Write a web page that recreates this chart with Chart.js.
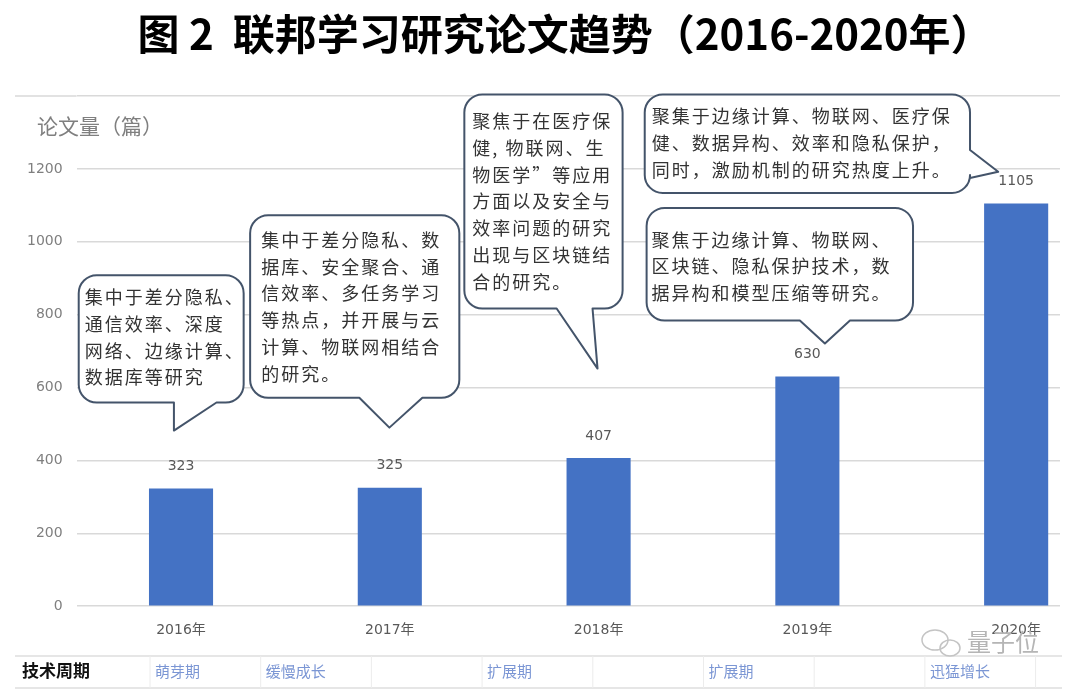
<!DOCTYPE html>
<html><head><meta charset="utf-8">
<script src="https://cdn.jsdelivr.net/npm/chart.js@4/dist/chart.umd.min.js"></script>
<style>html,body{margin:0;padding:0;background:#fff;}#wrap{width:1080px;height:693px;position:relative;}</style>
</head><body><div id="wrap"><canvas id="c" width="1080" height="693"></canvas></div>
<script>
// ---- data ----
const titleText = '图 2  联邦学习研究论文趋势（2016-2020年）';
const yAxisTitle = '论文量（篇）';
const years = [2016, 2017, 2018, 2019, 2020];
const yearLabels = ['2016年', '2017年', '2018年', '2019年', '2020年'];
const paperCounts = [323, 325, 407, 630, 1105];
const yTicks = [0, 200, 400, 600, 800, 1000, 1200];
const phaseHeader = '技术周期';
const phaseLabels = ['萌芽期', '缓慢成长', '', '扩展期', '', '扩展期', '', '迅猛增长'];
const note2016 = ['集中于差分隐私、', '通信效率、深度', '网络、边缘计算、', '数据库等研究'];
const note2017 = ['集中于差分隐私、数', '据库、安全聚合、通', '信效率、多任务学习', '等热点，并开展与云', '计算、物联网相结合', '的研究。'];
const note2018 = ['聚焦于在医疗保', '健, 物联网、生', '物医学”等应用', '方面以及安全与', '效率问题的研究', '出现与区块链结', '合的研究。'];
const note2020 = ['聚集于边缘计算、物联网、医疗保', '健、数据异构、效率和隐私保护，', '同时，激励机制的研究热度上升。'];
const note2019 = ['聚焦于边缘计算、物联网、', '区块链、隐私保护技术，数', '据异构和模型压缩等研究。'];
const watermark = '量子位';

// ---- callout placement (in axis units: years / paper counts) ----
const callouts = [
  { lines: note2016, box: [2015.51, 2016.30, 908, 559], tail: { side: 'bottom', a: 2015.966, b: 2016.17, tip: [2015.966, 482] }, padX: 6, padY: 22 },
  { lines: note2017, box: [2016.331, 2017.333, 1073, 572], tail: { side: 'bottom', a: 2016.854, b: 2017.156, tip: [2016.998, 490] }, padX: 11, padY: 25 },
  { lines: note2018, box: [2017.357, 2018.115, 1404, 817], tail: { side: 'bottom', a: 2017.799, b: 2017.971, tip: [2017.995, 652] }, padX: 8, padY: 27 },
  { lines: note2020, box: [2018.221, 2019.779, 1404, 1134], tail: { side: 'right', a: 1252, b: 1175, tip: [2019.914, 1192] }, padX: 7, padY: 22 },
  { lines: note2019, box: [2018.23, 2019.506, 1093, 784], tail: { side: 'bottom', a: 2018.964, b: 2019.204, tip: [2019.084, 721] }, padX: 5, padY: 32 }
];

const CJK = "'Noto Sans CJK SC', 'Noto Sans', sans-serif";
const NUM = "'DejaVu Sans', 'Noto Sans CJK SC', sans-serif";

function bubblePath(ctx, l, t, r, b, rad, tail, xs, ys) {
  ctx.beginPath();
  ctx.moveTo(l + rad, t);
  ctx.lineTo(r - rad, t);
  ctx.arcTo(r, t, r, t + rad, rad);
  if (tail.side === 'right') {
    ctx.lineTo(r, ys.getPixelForValue(tail.a));
    ctx.lineTo(xs.getPixelForValue(tail.tip[0]), ys.getPixelForValue(tail.tip[1]));
    ctx.lineTo(r, ys.getPixelForValue(tail.b));
  }
  ctx.lineTo(r, b - rad);
  ctx.arcTo(r, b, r - rad, b, rad);
  if (tail.side === 'bottom') {
    ctx.lineTo(xs.getPixelForValue(tail.b), b);
    ctx.lineTo(xs.getPixelForValue(tail.tip[0]), ys.getPixelForValue(tail.tip[1]));
    ctx.lineTo(xs.getPixelForValue(tail.a), b);
  }
  ctx.lineTo(l + rad, b);
  ctx.arcTo(l, b, l, b - rad, rad);
  ctx.lineTo(l, t + rad);
  ctx.arcTo(l, t, l + rad, t, rad);
  ctx.closePath();
}

const decor = {
  id: 'decor',
  beforeDraw(chart) {
    const { ctx, scales: { x, y } } = chart;
    ctx.save();
    ctx.fillStyle = '#fff';
    ctx.fillRect(0, 0, chart.width, chart.height);
    const yTop = y.getPixelForValue(1400);
    ctx.strokeStyle = '#d9d9d9';
    ctx.lineWidth = 1.5;
    ctx.beginPath();
    ctx.moveTo(15, yTop); ctx.lineTo(chart.chartArea.left, yTop);
    ctx.stroke();
    ctx.restore();
  },
  afterDraw(chart) {
    const { ctx, scales: { x, y } } = chart;
    ctx.save();
    // title
    ctx.fillStyle = '#000';
    ctx.font = "bold 42px " + CJK;
    ctx.textAlign = 'center';
    ctx.textBaseline = 'middle';
    ctx.fillText(titleText, 565, 34);
    // y axis title
    ctx.fillStyle = '#7f7f7f';
    ctx.font = "21px " + CJK;
    ctx.textAlign = 'left';
    ctx.fillText(yAxisTitle, 37, 126);
    // value labels
    const meta = chart.getDatasetMeta(0);
    ctx.fillStyle = '#595959';
    ctx.font = "14px " + NUM;
    ctx.textAlign = 'center';
    meta.data.forEach((bar, i) => {
      ctx.fillText(String(paperCounts[i]), bar.x, bar.y - 22);
    });
    // callouts
    callouts.forEach(c => {
      const l = x.getPixelForValue(c.box[0]), r = x.getPixelForValue(c.box[1]);
      const t = y.getPixelForValue(c.box[2]), b = y.getPixelForValue(c.box[3]);
      bubblePath(ctx, l, t, r, b, 18, c.tail, x, y);
      ctx.fillStyle = '#fff';
      ctx.fill();
      ctx.strokeStyle = '#44546a';
      ctx.lineWidth = 2;
      ctx.lineJoin = 'round';
      ctx.stroke();
      ctx.fillStyle = '#333';
      ctx.font = "18px " + CJK;
      ctx.textAlign = 'left';
      ctx.textBaseline = 'middle';
      try { ctx.letterSpacing = '2px'; } catch (e) {}
      c.lines.forEach((ln, k) => ctx.fillText(ln, l + c.padX, t + c.padY + k * 26.7));
      try { ctx.letterSpacing = '0px'; } catch (e) {}
    });
    // bottom table row
    const rowTop = 656, rowBot = 688, cellW = 110.7, cellX0 = 150;
    ctx.strokeStyle = '#dedede';
    ctx.lineWidth = 1.5;
    ctx.beginPath();
    ctx.moveTo(15, rowTop); ctx.lineTo(1062, rowTop);
    ctx.moveTo(15, rowBot); ctx.lineTo(1062, rowBot);
    ctx.stroke();
    ctx.strokeStyle = '#ececec';
    ctx.lineWidth = 1;
    ctx.beginPath();
    for (let k = 0; k <= phaseLabels.length; k++) {
      const sx = cellX0 + k * cellW;
      ctx.moveTo(sx, rowTop); ctx.lineTo(sx, rowBot);
    }
    ctx.stroke();
    ctx.fillStyle = '#111';
    ctx.font = "bold 17px " + CJK;
    ctx.textBaseline = 'middle';
    ctx.fillText(phaseHeader, 22, 671);
    ctx.fillStyle = '#7b96d4';
    ctx.font = "15px " + CJK;
    phaseLabels.forEach((p, k) => { if (p) ctx.fillText(p, cellX0 + 5 + k * cellW, 671); });
    // watermark
    ctx.strokeStyle = '#c4c4c4';
    ctx.lineWidth = 1.5;
    ctx.beginPath(); ctx.ellipse(935, 640, 13, 10, 0, 0, Math.PI * 2); ctx.stroke();
    ctx.beginPath(); ctx.ellipse(950, 648, 10, 8, 0, 0, Math.PI * 2); ctx.stroke();
    ctx.fillStyle = '#b5b5b5';
    ctx.font = "24px " + CJK;
    ctx.textAlign = 'left';
    ctx.fillText(watermark, 967, 642);
    ctx.restore();
  }
};

new Chart(document.getElementById('c'), {
  type: 'bar',
  data: {
    datasets: [{
      data: years.map((yr, i) => ({ x: yr, y: paperCounts[i] })),
      backgroundColor: '#4472c4',
      borderWidth: 0,
      barPercentage: 0.307,
      categoryPercentage: 1
    }]
  },
  options: {
    responsive: false,
    animation: false,
    events: [],
    layout: { padding: { top: 96, left: 13, right: 20, bottom: 38 } },
    plugins: { legend: { display: false }, tooltip: { enabled: false }, title: { display: false } },
    scales: {
      x: {
        type: 'linear',
        min: 2015.5,
        max: 2020.21,
        offset: false,
        afterBuildTicks: s => { s.ticks = years.map(v => ({ value: v })); },
        ticks: {
          autoSkip: false,
          maxRotation: 0,
          padding: 16,
          color: '#595959',
          font: { family: NUM, size: 14 },
          callback: v => { const i = years.indexOf(v); return i >= 0 ? yearLabels[i] : ''; }
        },
        grid: { display: false, drawTicks: false },
        border: { display: false }
      },
      y: {
        min: 0,
        max: 1400,
        ticks: {
          stepSize: 200,
          padding: 14,
          color: '#7f7f7f',
          font: { family: NUM, size: 14 },
          callback: v => yTicks.includes(v) ? String(v) : ''
        },
        grid: { color: '#d9d9d9', lineWidth: 1.5, drawTicks: false },
        border: { display: false }
      }
    }
  },
  plugins: [decor]
});
</script>
</body></html>
